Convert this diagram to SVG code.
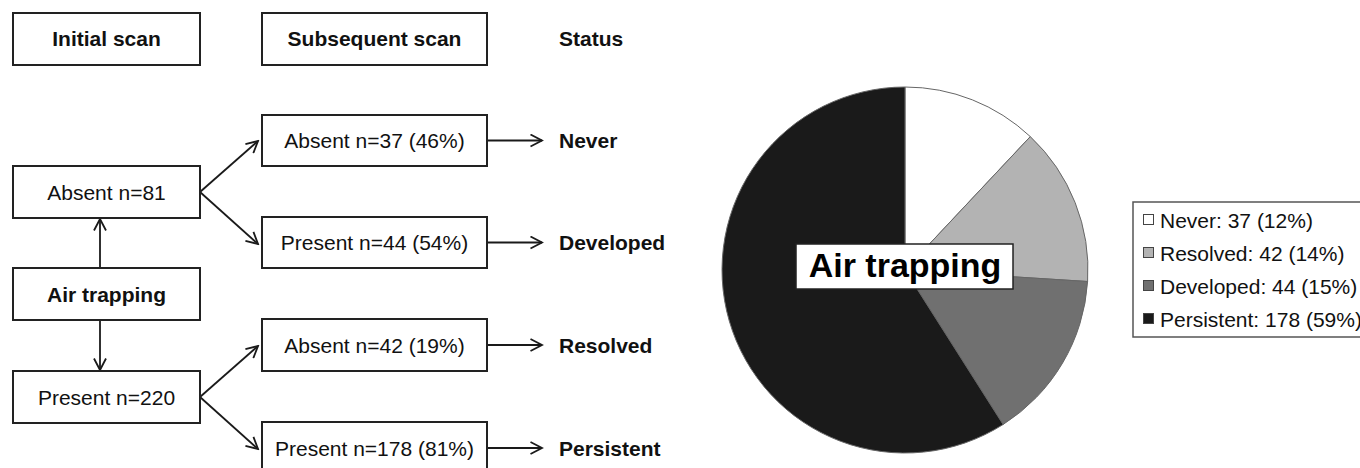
<svg xmlns="http://www.w3.org/2000/svg" width="1360" height="468" viewBox="0 0 1360 468">
<defs>
<marker id="arr" markerUnits="userSpaceOnUse" viewBox="0 0 14 14" markerWidth="14" markerHeight="14" refX="12.5" refY="7" orient="auto">
<path d="M1,1 L12.5,7 L1,13" fill="none" stroke="#1a1a1a" stroke-width="1.8"/>
</marker>
</defs>
<style>
.box{fill:#fff;stroke:#222;stroke-width:2}
.t{font-family:"Liberation Sans",Arial,sans-serif;font-size:21px;fill:#111}
.b{font-weight:bold}
.c{text-anchor:middle}
.con{stroke:#1a1a1a;stroke-width:1.8;fill:none;marker-end:url(#arr)}
.sl{stroke:#666;stroke-width:1}
.lt{font-family:"Liberation Sans",Arial,sans-serif;font-size:21px;fill:#111}
</style>
<rect width="1360" height="468" fill="#fff"/>

<g id="hdr-initial"><rect class="box" x="13" y="13" width="187" height="52"/><text class="t b c" x="106.5" y="46">Initial scan</text></g>
<g id="hdr-subsequent"><rect class="box" x="262" y="13" width="225" height="52"/><text class="t b c" x="374.5" y="46">Subsequent scan</text></g>
<g id="hdr-status"><text class="t b" x="559" y="46">Status</text></g>

<g id="connectors">
<line class="con" x1="200" y1="192" x2="258" y2="141"/>
<line class="con" x1="200" y1="192" x2="258" y2="244"/>
<line class="con" x1="100" y1="268" x2="100" y2="219"/>
<line class="con" x1="100" y1="320" x2="100" y2="370"/>
<line class="con" x1="200" y1="397" x2="258" y2="346"/>
<line class="con" x1="200" y1="397" x2="258" y2="449"/>
<line class="con" x1="487" y1="140.5" x2="542" y2="140.5"/>
<line class="con" x1="487" y1="242.5" x2="542" y2="242.5"/>
<line class="con" x1="487" y1="345" x2="542" y2="345"/>
<line class="con" x1="487" y1="448" x2="542" y2="448"/>
</g>

<g id="absent81"><rect class="box" x="13" y="166" width="187" height="52"/><text class="t c" x="106.5" y="199.5">Absent n=81</text></g>
<g id="airtrapping"><rect class="box" x="13" y="268" width="187" height="52"/><text class="t b c" x="106.5" y="301.5">Air trapping</text></g>
<g id="present220"><rect class="box" x="13" y="371" width="187" height="52"/><text class="t c" x="106.5" y="404.5">Present n=220</text></g>

<g id="absent37"><rect class="box" x="262" y="115" width="225" height="51"/><text class="t c" x="374.5" y="148">Absent n=37 (46%)</text></g>
<g id="present44"><rect class="box" x="262" y="217" width="225" height="51"/><text class="t c" x="374.5" y="250">Present n=44 (54%)</text></g>
<g id="absent42"><rect class="box" x="262" y="319" width="225" height="52"/><text class="t c" x="374.5" y="352.5">Absent n=42 (19%)</text></g>
<g id="present178"><rect class="box" x="262" y="422" width="225" height="52"/><text class="t c" x="374.5" y="455.5">Present n=178 (81%)</text></g>

<g id="st-never"><text class="t b" x="559" y="148">Never</text></g>
<g id="st-developed"><text class="t b" x="559" y="250">Developed</text></g>
<g id="st-resolved"><text class="t b" x="559" y="352.5">Resolved</text></g>
<g id="st-persistent"><text class="t b" x="559" y="455.5">Persistent</text></g>

<g id="pie">
<path class="sl" fill="#ffffff" d="M905,270 L905,87 A183,183 0 0 1 1030.3,136.6 Z"/>
<path class="sl" fill="#b3b3b3" d="M905,270 L1030.3,136.6 A183,183 0 0 1 1087.6,281.5 Z"/>
<path class="sl" fill="#707070" d="M905,270 L1087.6,281.5 A183,183 0 0 1 1003.1,424.5 Z"/>
<path class="sl" fill="#1a1a1a" d="M905,270 L1003.1,424.5 A183,183 0 1 1 905,87 Z"/>
</g>
<g id="pie-label"><rect x="796" y="244" width="217" height="45" fill="#fff" stroke="#222" stroke-width="1.5"/><text class="b c" x="905" y="277" font-family="Liberation Sans, Arial, sans-serif" font-size="34" fill="#000">Air trapping</text></g>

<g id="legend">
<rect x="1133" y="202" width="240" height="135" fill="#fff" stroke="#555" stroke-width="1.5"/>
<rect x="1143.5" y="214.5" width="10" height="10" fill="#fff" stroke="#444" stroke-width="1"/>
<text class="lt" x="1160" y="228">Never: 37 (12%)</text>
<rect x="1143.5" y="247.5" width="10" height="10" fill="#b3b3b3" stroke="#444" stroke-width="1"/>
<text class="lt" x="1160" y="261">Resolved: 42 (14%)</text>
<rect x="1143.5" y="280.5" width="10" height="10" fill="#707070" stroke="#444" stroke-width="1"/>
<text class="lt" x="1160" y="294">Developed: 44 (15%)</text>
<rect x="1143.5" y="313.5" width="10" height="10" fill="#1a1a1a" stroke="#444" stroke-width="1"/>
<text class="lt" x="1160" y="327">Persistent: 178 (59%)</text>
</g>
</svg>
